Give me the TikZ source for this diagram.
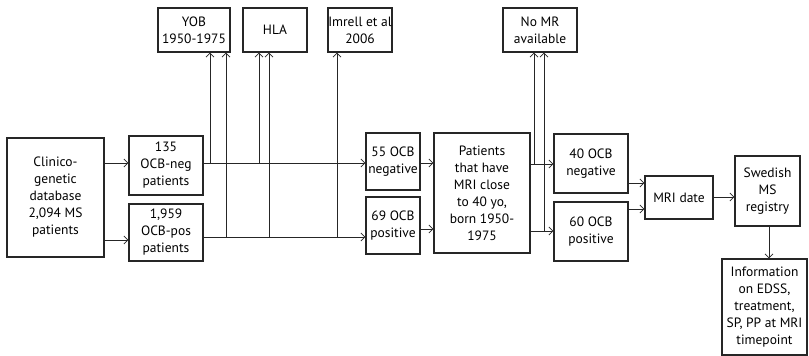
\documentclass[tikz,border=0pt]{standalone}
\usepackage{fontspec}
\setmainfont{PT Sans}
\usetikzlibrary{arrows.meta}
\begin{document}
\begin{tikzpicture}[x=1pt,y=-1pt,
  box/.style={draw=black!85,line width=1.1pt,inner sep=0pt,align=center,
    font=\fontsize{13.5}{17}\selectfont},
  arr/.style={draw=black!85,line width=0.8pt,-{Straight Barb[length=4pt,width=8pt,line width=0.8pt]}},
  ln/.style={draw=black!85,line width=0.8pt}]
\useasboundingbox (0,0) rectangle (809,356);
\node[box,minimum width=97pt,minimum height=119pt] (clin) at (55.5,197.5) {Clinico-\\genetic\\database\\2,094 MS\\patients};
\node[box,minimum width=74pt,minimum height=59pt] (neg135) at (166,165.5) {135\\OCB-neg\\patients};
\node[box,minimum width=74pt,minimum height=57pt] (pos1959) at (166,232.5) {1,959\\OCB-pos\\patients};
\node[box,minimum width=72pt,minimum height=44pt] (yob) at (194,30) {YOB\\1950-1975};
\node[box,minimum width=64pt,minimum height=44pt] (hla) at (275,30) {HLA};
\node[box,minimum width=64pt,minimum height=44pt] (imrell) at (360,30) {Imrell et al\\2006};
\node[box,minimum width=54pt,minimum height=57pt] (neg55) at (393,161.5) {55 OCB\\negative};
\node[box,minimum width=54pt,minimum height=57pt] (pos69) at (393,225.5) {69 OCB\\positive};
\node[box,minimum width=96pt,minimum height=120pt] (pat) at (482,193) {Patients\\that have\\MRI close\\to 40 yo,\\born 1950-\\1975};
\node[box,minimum width=74pt,minimum height=44pt] (nomr) at (540,30) {No MR\\available};
\node[box,minimum width=74pt,minimum height=59pt] (neg40) at (591,163.5) {40 OCB\\negative};
\node[box,minimum width=74pt,minimum height=59pt] (pos60) at (591,231.5) {60 OCB\\positive};
\node[box,minimum width=68pt,minimum height=43pt] (mridate) at (679,197.5) {MRI date};
\node[box,minimum width=65pt,minimum height=70pt] (swed) at (767.5,191) {Swedish\\MS\\registry};
\node[box,minimum width=85pt,minimum height=96pt] (info) at (764.5,307) {Information\\on EDSS,\\treatment,\\SP, PP at MRI\\timepoint};
% helper coordinates
\coordinate (ya) at (0,163);
\coordinate (yb) at (0,240);
\coordinate (yc) at (0,237);
\coordinate (yd) at (0,229);
\coordinate (ye) at (0,164);
\coordinate (yf) at (0,231);
\coordinate (yg) at (0,183);
\coordinate (yh) at (0,209);
\coordinate (yi) at (0,197);
\coordinate (xa) at (210,0);
\coordinate (xb) at (259,0);
\coordinate (xc) at (226,0);
\coordinate (xd) at (269,0);
\coordinate (xe) at (337,0);
\coordinate (xf) at (534,0);
\coordinate (xg) at (544,0);
\coordinate (xh) at (769,0);
% connectors
\draw[arr] (clin.east |- ya) -- (neg135.west |- ya);
\draw[arr] (clin.east |- yb) -- (pos1959.west |- yb);
\draw[arr] (neg135.east |- ya) -- (neg55.west |- ya);
\draw[arr] (pos1959.east |- yc) -- (pos69.west |- yc);
\draw[arr] (xa |- ya) -- (xa |- yob.south);
\draw[arr] (xb |- ya) -- (xb |- hla.south);
\draw[arr] (xc |- yc) -- (xc |- yob.south);
\draw[arr] (xd |- yc) -- (xd |- hla.south);
\draw[arr] (xe |- yc) -- (xe |- imrell.south);
\draw[arr] (neg55.east |- ya) -- (pat.west |- ya);
\draw[arr] (pos69.east |- yd) -- (pat.west |- yd);
\draw[arr] (pat.east |- ye) -- (neg40.west |- ye);
\draw[arr] (pat.east |- yf) -- (pos60.west |- yf);
\draw[arr] (xf |- ye) -- (xf |- nomr.south);
\draw[arr] (xg |- yf) -- (xg |- nomr.south);
\draw[arr] (neg40.east |- yg) -- (mridate.west |- yg);
\draw[arr] (pos60.east |- yh) -- (mridate.west |- yh);
\draw[arr] (mridate.east |- yi) -- (swed.west |- yi);
\draw[arr] (xh |- swed.south) -- (xh |- info.north);
\end{tikzpicture}
\end{document}
